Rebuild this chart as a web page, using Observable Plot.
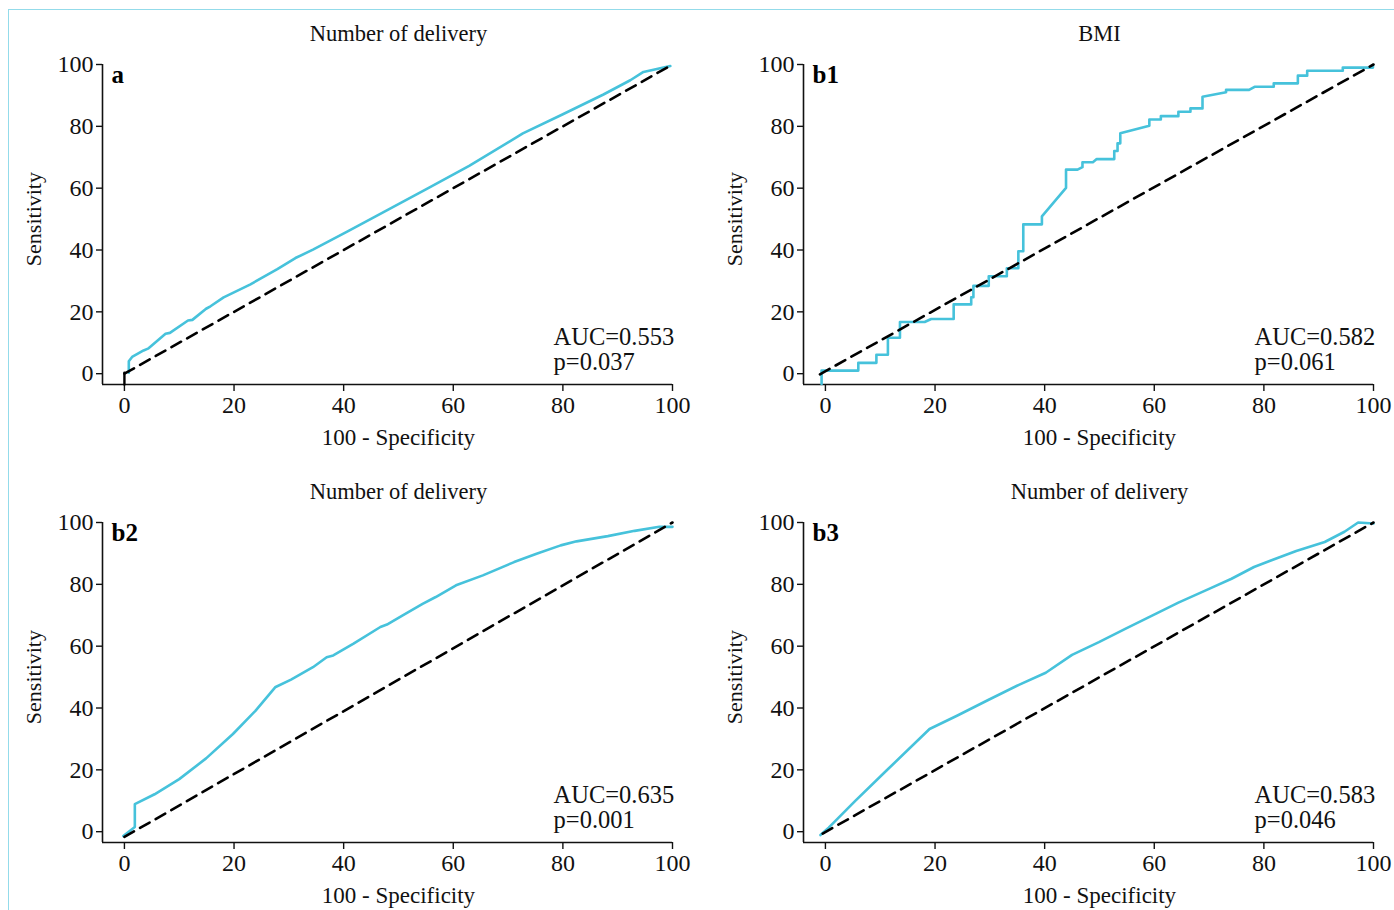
<!DOCTYPE html>
<html><head><meta charset="utf-8">
<script src="https://cdn.jsdelivr.net/npm/d3@7"></script>
<script src="https://cdn.jsdelivr.net/npm/@observablehq/plot@0.6"></script>
<style>
body{margin:0;background:#fff;overflow:hidden;width:1394px;height:910px;}
#fig{position:relative;width:1394px;height:910px;}
#border{position:absolute;left:8px;top:9px;right:0;bottom:0;border-top:1.5px solid #93dbea;border-left:1.5px solid #93dbea;}
.panel{position:absolute;}
.panel svg{max-width:none !important;}
</style></head><body><div id="fig"><div id="border"></div></div>
<script>
// ---- data ----
const titles = ["Number of delivery", "BMI", "Number of delivery", "Number of delivery"];
const letters = ["a", "b1", "b2", "b3"];
const aucLabels = ["AUC=0.553", "AUC=0.582", "AUC=0.635", "AUC=0.583"];
const pLabels = ["p=0.037", "p=0.061", "p=0.001", "p=0.046"];
const ticks = [0, 20, 40, 60, 80, 100];

const aX = [0.8, 0.8, 1.4, 3.5, 4.3, 7.5, 8.3, 11.6, 12.4, 14.9, 15.7, 18.1, 23.0, 27.9, 31.2, 34.4, 40.9, 48.3, 55.6, 62.9, 72.7, 80.0, 87.4, 92.3, 94.7, 99.6];
const aY = [0.3, 4.0, 5.4, 7.5, 8.1, 12.9, 13.2, 17.2, 17.4, 21.0, 21.8, 24.7, 28.9, 33.8, 37.4, 40.1, 46.2, 53.2, 60.2, 67.2, 77.7, 83.9, 90.3, 94.9, 97.6, 99.5];
const aStubX = [0, 0];
const aStubY = [-3.5, 0.3];

const b1X = [-0.7, -0.7, 6.0, 6.0, 9.3, 9.3, 11.4, 11.4, 13.6, 13.6, 18.1, 19.3, 23.4, 23.4, 26.6, 26.6, 27.0, 27.0, 29.8, 29.8, 33.1, 33.1, 35.2, 35.2, 36.1, 36.1, 39.5, 39.5, 43.9, 43.9, 46.0, 46.9, 46.9, 48.8, 49.5, 52.7, 52.7, 53.3, 53.3, 53.8, 53.8, 59.1, 59.1, 61.2, 61.2, 64.4, 64.4, 66.6, 66.6, 68.8, 68.8, 73.1, 73.1, 77.3, 78.3, 81.8, 81.8, 86.2, 86.2, 87.9, 87.9, 94.4, 94.4, 99.9, 99.9];
const b1Y = [-3.3, 1.0, 1.0, 3.5, 3.5, 6.1, 6.1, 11.6, 11.6, 16.7, 16.7, 17.7, 17.7, 22.4, 22.4, 24.7, 24.7, 28.4, 28.4, 31.5, 31.5, 34.1, 34.1, 39.6, 39.6, 48.3, 48.3, 50.9, 60.1, 66.0, 66.0, 66.8, 68.4, 68.4, 69.4, 69.4, 72.0, 72.0, 74.5, 74.5, 77.8, 80.2, 82.2, 82.2, 83.3, 83.3, 84.7, 84.7, 85.8, 85.8, 89.6, 91.0, 91.8, 91.8, 92.8, 92.8, 93.9, 93.9, 96.4, 96.4, 98.0, 98.0, 99.0, 99.0, 99.8];

const b2X = [-0.2, 1.9, 1.9, 5.5, 10.0, 14.9, 19.8, 23.9, 27.5, 30.4, 34.4, 36.9, 38.1, 41.8, 46.7, 47.9, 50.7, 54.4, 56.8, 60.5, 65.4, 71.1, 75.2, 79.6, 82.5, 88.2, 93.1, 97.6, 100];
const b2Y = [-1.4, 1.5, 8.9, 12.1, 17.0, 23.7, 31.6, 39.1, 46.7, 49.2, 53.2, 56.4, 57.0, 60.8, 66.2, 67.0, 69.9, 73.7, 75.9, 79.7, 82.9, 87.2, 89.9, 92.6, 93.9, 95.6, 97.3, 98.6, 98.6];

const b3X = [-0.9, 0.6, 5.4, 11.1, 19.0, 24.0, 29.7, 35.3, 40.2, 45.0, 49.9, 54.7, 59.6, 64.4, 70.1, 74.1, 78.2, 81.4, 85.9, 91.1, 94.7, 97.2, 100];
const b3Y = [-1.1, 1.3, 9.9, 19.7, 33.2, 37.5, 42.6, 47.5, 51.4, 57.2, 61.3, 65.6, 69.9, 74.1, 78.6, 81.8, 85.6, 87.8, 90.8, 93.7, 97.0, 100, 99.7];

const diagX = [[0, 100], [-1.0, 100], [0, 100], [-0.5, 100]];
const diagY = [[0, 100], [-0.2, 100], [-1.7, 100], [-0.6, 100]];

const curvesX = [aX, b1X, b2X, b3X];
const curvesY = [aY, b1Y, b2Y, b3Y];

// ---- layout ----
const xDomain = [-4, 100];
const yDomain = [-3.5, 100];
const cyan = "#46c2db";
const font = "'Liberation Serif', serif";
const offsets = [[0, 0], [701, 0], [0, 458], [701, 458]];

const fig = document.getElementById("fig");

for (let i = 0; i < 4; i++) {
  const curve = curvesX[i].map((x, j) => ({x, y: curvesY[i][j]}));
  const diag = diagX[i].map((x, j) => ({x, y: diagY[i][j]}));
  const marks = [
    Plot.ruleX([xDomain[0]], {stroke: "#111", strokeWidth: 1.6}),
    Plot.ruleY([yDomain[0]], {stroke: "#111", strokeWidth: 1.6}),
    Plot.axisX({ticks, tickSize: 7, tickPadding: 4, label: null, fontSize: 24, strokeWidth: 1.4}),
    Plot.axisY({ticks, tickSize: 6, tickPadding: 3, label: null, fontSize: 24, strokeWidth: 1.4}),
    Plot.line(curve, {x: "x", y: "y", stroke: cyan, strokeWidth: 2.6, curve: "linear"}),
  ];
  if (i === 0) {
    const stub = aStubX.map((x, j) => ({x, y: aStubY[j]}));
    marks.push(Plot.line(stub, {x: "x", y: "y", stroke: "#000", strokeWidth: 2.4}));
  }
  marks.push(
    Plot.line(diag, {x: "x", y: "y", stroke: "#000", strokeWidth: 2.6, strokeDasharray: "11,7"}),
    Plot.text([titles[i]], {x: 50, frameAnchor: "top", dy: -31, lineAnchor: "middle", fontSize: 22.5, fill: "#111"}),
    Plot.text(["Sensitivity"], {y: 50, frameAnchor: "left", dx: -69, rotate: -90, textAnchor: "middle", lineAnchor: "middle", fontSize: 22, fill: "#111"}),
    Plot.text(["100 - Specificity"], {x: 50, frameAnchor: "bottom", dy: 53, lineAnchor: "middle", fontSize: 23, fill: "#111"}),
    Plot.text([letters[i]], {frameAnchor: "top-left", dx: 9, dy: 10, textAnchor: "start", lineAnchor: "middle", fontSize: 25, fontWeight: "bold", fill: "#000"}),
    Plot.text([aucLabels[i]], {x: 78.3, y: 11.7, textAnchor: "start", lineAnchor: "middle", fontSize: 24.5, fill: "#111"}),
    Plot.text([pLabels[i]], {x: 78.3, y: 3.6, textAnchor: "start", lineAnchor: "middle", fontSize: 24.5, fill: "#111"})
  );
  const chart = Plot.plot({
    width: 693,
    height: i < 2 ? 455 : 452,
    marginLeft: 102,
    marginRight: 21,
    marginTop: 64,
    marginBottom: i < 2 ? 71 : 68,
    x: {domain: xDomain},
    y: {domain: yDomain},
    style: {fontFamily: font, fontSize: "24px", color: "#111", background: "transparent", overflow: "visible", maxWidth: "none"},
    marks
  });
  const div = document.createElement("div");
  div.className = "panel";
  div.style.left = offsets[i][0] + "px";
  div.style.top = offsets[i][1] + "px";
  div.appendChild(chart);
  fig.appendChild(div);
}
</script></body></html>
